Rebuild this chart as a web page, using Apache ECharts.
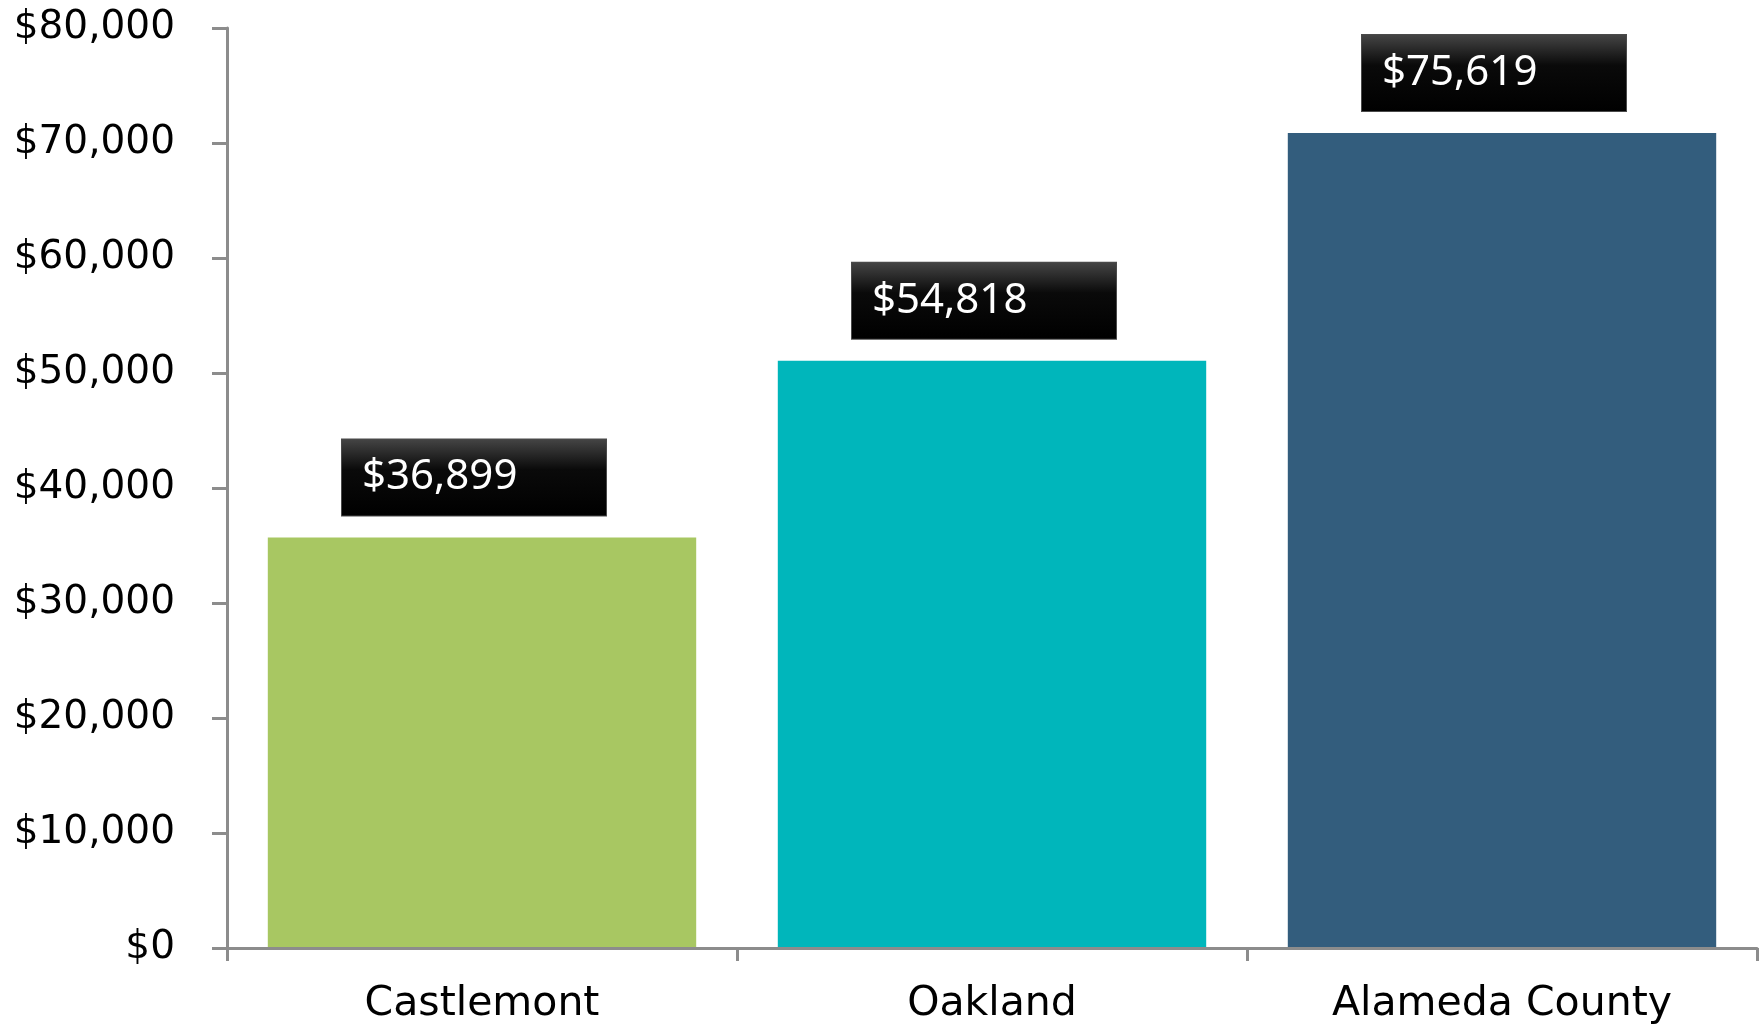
<!DOCTYPE html>
<html>
<head>
<meta charset="utf-8">
<script src="https://cdn.jsdelivr.net/npm/echarts@6/dist/echarts.min.js"></script>
<style>
html,body{margin:0;padding:0;background:#fff;}
#chart{width:1764px;height:1025px;}
</style>
</head>
<body>
<div id="chart"></div>
<script>
var categories = ['Castlemont', 'Oakland', 'Alameda County'];
var barValues = [35700, 51070, 70870];
var labelTexts = ['$36,899', '$54,818', '$75,619'];
var barColors = ['#A8C762', '#00B6BB', '#335D7D'];
var yTicks = [0, 10000, 20000, 30000, 40000, 50000, 60000, 70000, 80000];

var chart = echarts.init(document.getElementById('chart'));

function fmt(v){ return '$' + v.toString().replace(/\B(?=(\d{3})+(?!\d))/g, ','); }

var boxGrad = new echarts.graphic.LinearGradient(0, 0, 0, 1, [
  {offset: 0, color: '#464646'},
  {offset: 0.4, color: '#0a0a0a'},
  {offset: 1, color: '#000000'}
]);

chart.setOption({
  animation: false,
  backgroundColor: '#ffffff',
  grid: {left: 227, right: 7, top: 28, bottom: 77, containLabel: false},
  xAxis: {
    type: 'category',
    data: categories,
    z: 10,
    axisLine: {lineStyle: {color: '#8c8c8c', width: 3}},
    axisTick: {show: true, length: 13, alignWithLabel: false, lineStyle: {color: '#8c8c8c', width: 3}},
    axisLabel: {color: '#000', fontFamily: 'DejaVu Sans', fontSize: 41, margin: 36}
  },
  yAxis: {
    type: 'value',
    min: yTicks[0],
    max: yTicks[yTicks.length - 1],
    interval: yTicks[1] - yTicks[0],
    splitLine: {show: false},
    axisLine: {show: true, lineStyle: {color: '#8c8c8c', width: 3}},
    axisTick: {show: true, length: 15, lineStyle: {color: '#8c8c8c', width: 3}},
    axisLabel: {color: '#000', fontFamily: 'DejaVu Sans', fontSize: 39, margin: 52, formatter: fmt}
  },
  series: [{
    type: 'bar',
    barCategoryGap: '16%',
    data: barValues.map(function(v, i){
      return {value: v, itemStyle: {color: barColors[i]}};
    }),
    label: {
      show: true,
      position: 'top',
      distance: 22,
      offset: [-140, 0],
      formatter: function(p){ return labelTexts[p.dataIndex]; },
      color: '#fff',
      fontFamily: 'Noto Sans',
      fontSize: 42,
      align: 'left',
      width: 244,
      height: 76,
      lineHeight: 76,
      padding: [0, 0, 0, 20],
      backgroundColor: boxGrad,
      borderColor: '#4a4a4a',
      borderWidth: 1
    }
  }]
});
</script>
</body>
</html>
